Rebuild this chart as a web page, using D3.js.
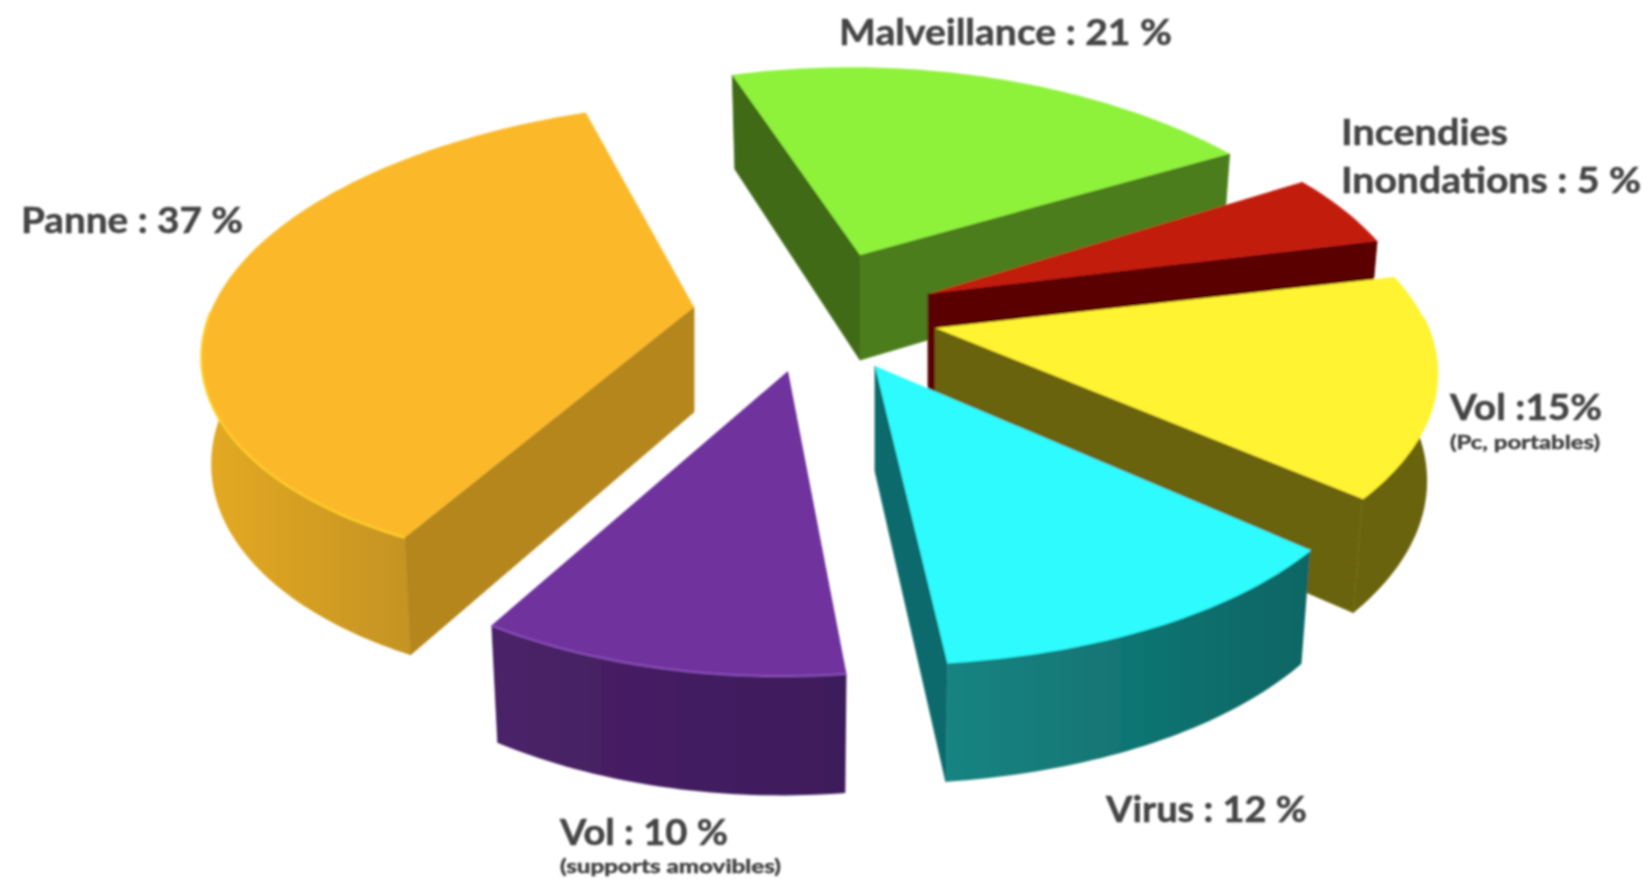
<!DOCTYPE html>
<html>
<head>
<meta charset="utf-8">
<style>
html, body { margin: 0; padding: 0; background: #fff; }
svg { display: block; }
text { font-family: Lato, "Noto Sans", sans-serif; font-weight: 700; fill: #444; stroke: #444; stroke-width: 0.5px; }
</style>
</head>
<body>
<svg id="chart" width="1648" height="879"></svg>
<script src="https://cdn.jsdelivr.net/npm/d3@7"></script>
<script>
// values, clockwise from the top slice
var categories = ["Malveillance", "Incendies Inondations", "Vol (Pc, portables)", "Virus", "Vol (supports amovibles)", "Panne"];
var values = [21, 5, 15, 12, 10, 37];

var topColors = ["#8ef23a", "#c21a10", "#fff330", "#2dfbfd", "#6f339d", "#fbb92b"];
var rimColors = ["#8ef23a", "#c21a10", "#fff330", "#2dfbfd", "#8a4fb8", "#ffd02a"];
var startWallColors = ["#3f6a16", "#5a0000", "#6b6308", "#0e6b6c", "#46205f", "#b5861b"];
var endWallColors = ["#4c7d1f", "#5a0000", "#6b6308", "#0e6b6c", "#46205f", "#b5861b"];
var arcWallLeft = ["#4c7d1f", "#5a0000", "#6b6308", "#178482", "#4a2168", "#e5aa22"];
var arcWallRight = ["#4c7d1f", "#5a0000", "#6b6308", "#0c6664", "#3e1d5c", "#c49320"];

// how far each slice is pulled out of the pie, in px
var explodeX = [10, 78, 85, 25, -62, -156];
var explodeY = [-55, -16, 18, 56, 61, -3];

// the picture is a real perspective shot, so each slice gets its own projection
var sliceRx = [482, 482, 493, 498, 489, 487];
var sliceRy = [202, 241, 230, 257, 234, 230];
var slicePx = [0.19, 0.19, 0.19, 0.19, 0.19, 0.1];
var slicePy = [0.076, 0.233, 0.19, 0.139, 0.233, 0.117];
var sliceShear = [0.047, 0, 0, 0.02, -0.022, -0.11];
var sliceTilt = [0, 0, 0, 0, 0, -0.03];

var labels = [
	{ text: "Malveillance : 21 %", x: 839, y: 45, w: 333, size: 37 },
	{ text: "Panne : 37 %", x: 21, y: 233, w: 222, size: 37 },
	{ text: "Incendies", x: 1341, y: 145, w: 167, size: 37 },
	{ text: "Inondations : 5 %", x: 1341, y: 193, w: 300, size: 37 },
	{ text: "Vol :15%", x: 1450, y: 420, w: 152, size: 37 },
	{ text: "(Pc, portables)", x: 1450, y: 449, w: 150, size: 19 },
	{ text: "Virus : 12 %", x: 1106, y: 822, w: 201, size: 37 },
	{ text: "Vol : 10 %", x: 560, y: 845, w: 168, size: 37 },
	{ text: "(supports amovibles)", x: 560, y: 873, w: 221, size: 18 }
];

var svg = d3.select("#chart"),
	cx = 850, cy = 310,
	depth = 105,
	taper = 0.98,
	rad = Math.PI / 180;

var pie = d3.pie().sort(null).startAngle(-17 * rad).endAngle(343 * rad);
var line = d3.line();

function topPoint(a, d) {
	var i = d.i, c = d.apex,
		s = Math.sin(a), k = Math.cos(a),
		x = sliceRx[i] * s / (1 + slicePx[i] * k),
		y = -sliceRy[i] * k / (1 + slicePy[i] * k);
	x += sliceShear[i] * y;
	y += sliceTilt[i] * x;
	return [c[0] + x, c[1] + y];
}
function bottomPoint(a, d) {
	var p = topPoint(a, d), k = Math.cos(a);
	return [d.apex[0] + (p[0] - d.apex[0]) * taper, p[1] + depth / (1 + 0.12 * k)];
}

var defs = svg.append("defs");
defs.append("filter").attr("id", "soft")
	.attr("x", "-2%").attr("y", "-2%").attr("width", "104%").attr("height", "104%")
	.append("feGaussianBlur").attr("stdDeviation", 0.8);

var slices = pie(values).map(function (d, i) {
	d.i = i;
	d.apex = [cx + explodeX[i], cy + explodeY[i]];
	var n = Math.ceil((d.endAngle - d.startAngle) / rad);
	d.angles = d3.range(n + 1).map(function (j) {
		return d.startAngle + (d.endAngle - d.startAngle) * j / n;
	});
	return d;
}).sort(function (a, b) { return a.apex[1] - b.apex[1]; });	// back to front

slices.forEach(function (d) {
	var g2 = defs.append("linearGradient").attr("id", "wall" + d.i);
	g2.append("stop").attr("offset", "0%").attr("stop-color", arcWallLeft[d.i]);
	g2.append("stop").attr("offset", "100%").attr("stop-color", arcWallRight[d.i]);
});

var root = svg.append("g").attr("filter", "url(#soft)");

var slice = root.selectAll("g.slice")
	.data(slices)
	.enter().append("g")
	.attr("class", "slice");

slice.each(function (d) {
	var g = d3.select(this),
		apexBottom = [d.apex[0], d.apex[1] + depth],
		arcTop = d.angles.map(function (a) { return topPoint(a, d); }),
		near = d.angles.filter(function (a) { return Math.cos(a) < 0.05; }),	// only this part of the rim faces us
		nearTop = near.map(function (a) { return topPoint(a, d); }),
		nearBottom = near.map(function (a) { return bottomPoint(a, d); }),
		last = d.angles.length - 1;

	var startQuad = [d.apex, arcTop[0], bottomPoint(d.angles[0], d), apexBottom],
		endQuad = [d.apex, arcTop[last], bottomPoint(d.angles[last], d), apexBottom];

	// the thin strokes close the seams between neighbouring walls
	if (d3.polygonArea(startQuad) > 0) {
		g.append("path").attr("d", line(startQuad) + "Z")
			.attr("fill", startWallColors[d.i]).attr("stroke", startWallColors[d.i]).attr("stroke-width", 0.8);
	}
	if (d3.polygonArea(endQuad) < 0) {
		g.append("path").attr("d", line(endQuad) + "Z")
			.attr("fill", endWallColors[d.i]).attr("stroke", endWallColors[d.i]).attr("stroke-width", 0.8);
	}

	if (near.length > 1) {
		g.append("path")
			.attr("d", line(nearTop.concat(nearBottom.slice().reverse())) + "Z")
			.attr("fill", "url(#wall" + d.i + ")");
	}

	g.append("path")
		.attr("d", line([d.apex].concat(arcTop)) + "Z")
		.attr("fill", topColors[d.i]);

	if (near.length > 1) {
		g.append("path")
			.attr("d", line(nearTop))
			.attr("fill", "none")
			.attr("stroke", rimColors[d.i])
			.attr("stroke-width", 2);
	}
});

svg.append("g").attr("filter", "url(#soft)")
	.selectAll("text")
	.data(labels)
	.enter().append("text")
	.attr("x", function (d) { return d.x; })
	.attr("y", function (d) { return d.y; })
	.attr("font-size", function (d) { return d.size; })
	.attr("textLength", function (d) { return d.w; })
	.attr("lengthAdjust", "spacingAndGlyphs")
	.text(function (d) { return d.text; });
</script>
</body>
</html>
